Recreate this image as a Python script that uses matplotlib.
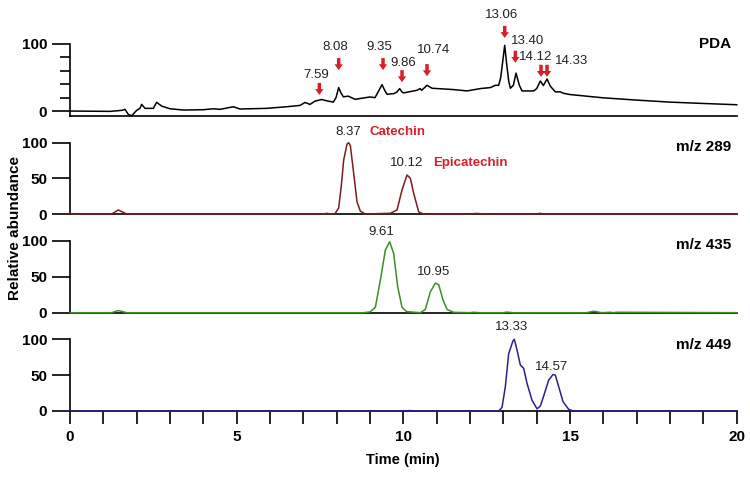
import matplotlib
matplotlib.use('Agg')
import matplotlib.pyplot as plt

plt.rcParams['font.family'] = ['Liberation Sans', 'DejaVu Sans']

W, H = 750, 478
RED = '#d42027'

# PDA trace (time in min, relative absorbance)
pda_t = [0, 1.2, 1.55, 1.65, 1.75, 1.85, 2.0, 2.1, 2.15, 2.25, 2.5, 2.6, 2.75, 3.0, 3.4, 4.0, 4.3,
         4.5, 4.9, 5.1, 5.9, 6.5, 6.9, 7.05, 7.2, 7.35, 7.55, 7.7, 7.9, 7.98, 8.06, 8.13, 8.2, 8.35,
         8.55, 9.0, 9.15, 9.26, 9.36, 9.45, 9.51, 9.71, 9.8, 9.89, 9.95, 10.0, 10.41, 10.5, 10.55,
         10.71, 10.86, 11.51, 11.91, 12.31, 12.61, 12.76, 12.86, 12.92, 12.96, 13.04, 13.11, 13.16,
         13.21, 13.3, 13.38, 13.48, 13.56, 13.91, 14.0, 14.11, 14.2, 14.31, 14.41, 14.56, 14.71,
         14.8, 15.0, 16.0, 17.0, 18.0, 19.0, 20.0]
pda_v = [0, -0.5, 1, 2.5, -5, -7, 1, 4, 10, 4, 4, 13, 7.4, 3.4, 1.5, 2, 3.4,
         2.5, 6.4, 3, 4, 6.4, 8.4, 12.8, 9.9, 14.8, 17.2, 15.3, 13.3, 20, 35, 27, 21.2, 22.2,
         17.5, 21, 20, 30, 39.4, 30, 25, 26, 28, 33.5, 29, 27, 31, 33.5, 31,
         38.4, 34, 32, 30, 33.5, 35, 38.4, 38.4, 50, 65.5, 98, 65.5, 45,
         34, 38.4, 56.6, 38.4, 30, 30, 33.5, 44.8, 38, 47.8, 37, 28.6, 28.6,
         26.5, 24.6, 19.7, 16.3, 13.3, 11.3, 9.4]

# extracted ion chromatograms
mz289_t = [0, 1.25, 1.45, 1.7, 7.6, 7.7, 7.8, 7.95, 8.06, 8.14, 8.21, 8.31, 8.36, 8.41, 8.51, 8.61,
           8.71, 8.86, 9.61, 9.81, 9.96, 10.11, 10.21, 10.31, 10.46, 10.6, 12.0, 12.2, 12.4, 14.0,
           14.1, 14.2, 20]
mz289_v = [0, 0, 5.6, 0, 0, 1, 0, 0.5, 8.4, 40, 75.7, 98, 100, 96, 57, 17,
           4, 0, 1, 5.6, 33.7, 54.7, 50, 29, 3, 0, 0, 0.8, 0, 0,
           1, 0, 0]

mz435_t = [0, 1.25, 1.45, 1.7, 8.8, 9.0, 9.16, 9.31, 9.46, 9.59, 9.71, 9.83, 9.96, 10.1, 10.51,
           10.66, 10.81, 10.96, 11.06, 11.19, 11.31, 11.51, 12.0, 12.1, 12.3, 13.0, 13.1, 13.3,
           15.5, 15.71, 15.95, 16.2, 16.3, 16.4, 20]
mz435_v = [0, 0, 3, 0, 0, 1, 7.5, 45, 87, 98.6, 82, 36, 7.5, 1.5, 0,
           4.5, 29, 41, 39, 17.6, 4.5, 0.5, 0, 0.6, 0, 0, 0.8, 0,
           0, 2, 0, 0.6, 0, 0.6, 0]

mz449_t = [0, 10.0, 10.2, 10.4, 12.86, 12.96, 13.06, 13.16, 13.29, 13.33, 13.41, 13.51, 13.61,
           13.71, 13.86, 14.01, 14.11, 14.21, 14.36, 14.49, 14.56, 14.66, 14.79, 14.96, 15.1, 20]
mz449_v = [0, 0, 0.6, 0, 0, 5, 34, 80, 98, 100, 85, 64, 59.5,
           38.6, 15, 3, 7, 21, 43, 51, 50, 34, 13, 2.3, 0, 0]

# PDA peak marks: label, arrow time, arrow tip height
pda_labels = ['7.59', '8.08', '9.35', '9.86', '10.74', '13.06', '13.40', '14.12', '14.33']
pda_arrow_t = [7.48, 8.06, 9.39, 9.96, 10.71, 13.04, 13.36, 14.13, 14.31]
pda_arrow_tip = [24, 61, 61, 43, 52, 109, 72, 51, 51]
# label anchor (time, height)
pda_label_t = [7.39, 7.96, 9.28, 10.0, 10.9, 12.94, 13.72, 13.96, 15.05]
pda_label_y = [54, 95.5, 96, 72, 91, 143, 105, 81, 74]

traces = [('m/z 289', mz289_t, mz289_v, '#7a1c20'),
          ('m/z 435', mz435_t, mz435_v, '#3d8c26'),
          ('m/z 449', mz449_t, mz449_v, '#27238c')]
peak_labels = [[('8.37', 8.36, 115), ('10.12', 10.11, 71)],
               [('9.61', 9.34, 112), ('10.95', 10.91, 57)],
               [('13.33', 13.26, 117.5), ('14.57', 14.46, 62)]]
compound_labels = [('Catechin', 8.99, 115), ('Epicatechin', 10.88, 71)]


def rect(top, bottom):
    return [70 / W, (H - bottom) / H, (736.7 - 70) / W, (bottom - top) / H]


fig = plt.figure(figsize=(W / 100, H / 100), dpi=100)

# PDA panel
ax0 = fig.add_axes(rect(44, 116))
ax0.plot(pda_t, pda_v, color='black', lw=1.1, clip_on=False)
ax0.set_xlim(0, 20)
ax0.set_ylim(-7.4, 100)
for s in ['top', 'right']:
    ax0.spines[s].set_visible(False)
for s in ['left', 'bottom']:
    ax0.spines[s].set_linewidth(1.2)
ax0.set_xticks([])
ax0.set_yticks([0, 100])
ax0.set_yticks([20, 40, 60, 80], minor=True)
ax0.tick_params(axis='y', which='major', length=13, width=1.2, labelsize=11)
ax0.tick_params(axis='y', which='minor', length=7, width=1.2)
for lab in ax0.get_yticklabels():
    lab.set_fontweight('bold')
for t, tip in zip(pda_arrow_t, pda_arrow_tip):
    ax0.annotate('', xy=(t, tip), xytext=(t, tip + 18), annotation_clip=False,
                 arrowprops=dict(arrowstyle='simple,head_width=0.6,head_length=0.42,tail_width=0.25',
                                 color=RED, lw=0, mutation_scale=10,
                                 shrinkA=0, shrinkB=0))
for lab, t, y in zip(pda_labels, pda_label_t, pda_label_y):
    ax0.text(t, y, lab, ha='center', va='center', fontsize=9.5, color='#222222', clip_on=False)

panel_px = [(142.7, 214), (240.7, 312.7), (339.3, 411)]
axes = []
for i, ((name, t, v, c), (top, bot)) in enumerate(zip(traces, panel_px)):
    ax = fig.add_axes(rect(top, bot))
    ax.plot(t, v, color=c, lw=1.1, clip_on=False, zorder=3)
    ax.set_xlim(0, 20)
    ax.set_ylim(0, 100)
    for s in ['top', 'right']:
        ax.spines[s].set_visible(False)
    for s in ['left', 'bottom']:
        ax.spines[s].set_linewidth(1.2)
    ax.set_yticks([0, 50, 100])
    ax.tick_params(axis='y', length=13, width=1.2, labelsize=11)
    for lab in ax.get_yticklabels():
        lab.set_fontweight('bold')
    for lab, x, y in peak_labels[i]:
        ax.text(x, y, lab, ha='center', va='center', fontsize=9.5, color='#222222', clip_on=False)
    if i < 2:
        ax.set_xticks([])
    axes.append(ax)

for lab, x, y in compound_labels:
    axes[0].text(x, y, lab, ha='left', va='center', fontsize=9.5, color=RED,
                 fontweight='bold', clip_on=False)

ax3 = axes[2]
ax3.set_xticks([0, 5, 10, 15, 20])
ax3.set_xticks(range(21), minor=True)
ax3.tick_params(axis='x', which='both', length=9, width=1.2, labelsize=11, pad=5)
for lab in ax3.get_xticklabels():
    lab.set_fontweight('bold')

fig.text(403 / W, 1 - 460 / H, 'Time (min)', ha='center', va='center',
         fontsize=10.5, fontweight='bold')
fig.text(15 / W, 1 - 228 / H, 'Relative abundance', ha='center', va='center',
         rotation=90, fontsize=11, fontweight='bold')

right_y = [44, 146.7, 245, 345]
right_names = ['PDA'] + [tr[0] for tr in traces]
for name, y in zip(right_names, right_y):
    fig.text(731 / W, 1 - y / H, name, ha='right', va='center', fontsize=11, fontweight='bold')

fig.savefig('out.png', dpi=100)
